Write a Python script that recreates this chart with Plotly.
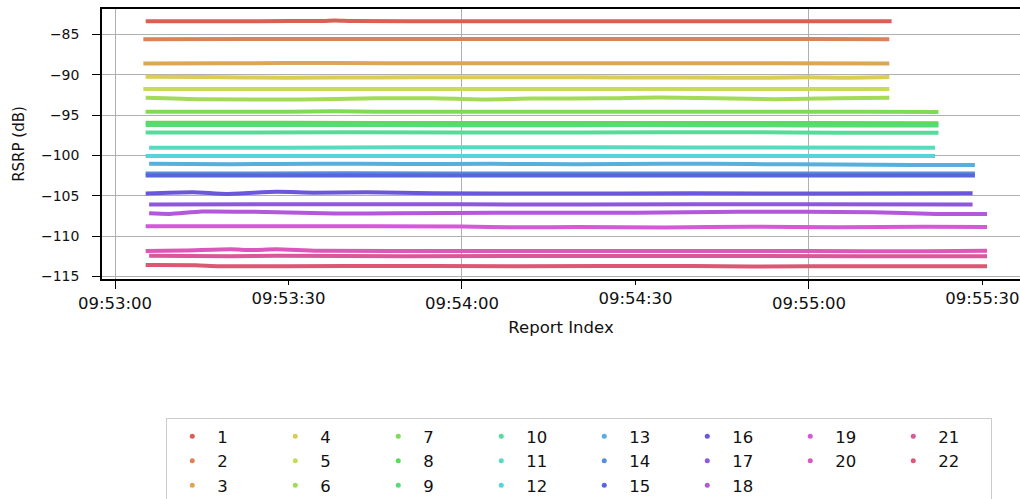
import colorsys
import datetime as dt

import plotly.graph_objects as go

# Report times are seconds after 09:53:00; RSRP readings in dB.
BASE = dt.datetime(2000, 1, 1, 9, 53, 0)

SERIES_NAMES = [str(i) for i in range(1, 23)]

t1 = [5.3, 25, 36, 38, 41, 60, 90, 120, 134.3]
v1 = [-83.36, -83.35, -83.32, -83.27, -83.33, -83.35, -83.36, -83.35, -83.36]

t2 = [4.9, 30, 60, 90, 120, 133.9]
v2 = [-85.58, -85.55, -85.57, -85.55, -85.56, -85.58]

t3 = [4.9, 20, 38, 55, 80, 110, 133.9]
v3 = [-88.60, -88.58, -88.53, -88.58, -88.57, -88.58, -88.60]

t4 = [5.3, 15, 30, 45, 60, 80, 100, 113, 120, 126, 133.9]
v4 = [-90.25, -90.28, -90.36, -90.33, -90.30, -90.32, -90.33, -90.38, -90.30, -90.36, -90.27]

t5 = [4.9, 40, 80, 120, 133.9]
v5 = [-91.77, -91.76, -91.77, -91.76, -91.77]

t6 = [5.3, 15, 32, 45, 55, 64, 72, 85, 94, 114, 125, 133.9]
v6 = [-92.84, -93.02, -93.06, -92.92, -92.90, -93.06, -92.95, -92.92, -92.82, -93.02, -92.90, -92.86]

t7 = [5.3, 30, 38, 45, 70, 100, 130, 142.4]
v7 = [-94.60, -94.58, -94.52, -94.58, -94.60, -94.58, -94.60, -94.62]

t8 = [5.3, 30, 60, 90, 120, 142.4]
v8 = [-95.96, -95.95, -95.98, -95.97, -95.98, -96.00]

t9 = [5.3, 30, 60, 90, 120, 142.4]
v9 = [-96.24, -96.22, -96.26, -96.24, -96.28, -96.30]

t10 = [5.3, 40, 80, 110, 125, 142.4]
v10 = [-97.16, -97.14, -97.15, -97.12, -97.20, -97.18]

t11 = [5.9, 30, 50, 70, 100, 141.8]
v11 = [-99.06, -99.06, -98.98, -98.98, -99.02, -99.04]

t12 = [5.3, 40, 80, 120, 141.8]
v12 = [-100.08, -100.06, -100.07, -100.06, -100.08]

t13 = [5.9, 20, 35, 50, 65, 80, 95, 110, 125, 138, 148.7]
v13 = [-101.05, -101.10, -101.02, -101.08, -101.04, -101.10, -101.02, -101.08, -101.12, -101.20, -101.18]

t14 = [5.3, 40, 80, 120, 148.7]
v14 = [-102.24, -102.22, -102.25, -102.23, -102.24]

t15 = [5.3, 40, 80, 120, 148.7]
v15 = [-102.49, -102.50, -102.48, -102.50, -102.50]

t16 = [5.3, 13.5, 19.3, 27.9, 34.3, 43.5, 55, 75, 100, 125, 148.3]
v16 = [-104.72, -104.56, -104.78, -104.52, -104.62, -104.58, -104.70, -104.72, -104.70, -104.72, -104.70]

t17 = [5.9, 40, 80, 120, 148.3]
v17 = [-106.08, -106.06, -106.08, -106.06, -106.08]

t18 = [5.9, 9.5, 15, 26, 38, 49, 66, 90, 108, 131, 142, 150.8]
v18 = [-107.18, -107.26, -106.96, -107.02, -107.22, -107.18, -107.10, -107.10, -106.98, -107.04, -107.26, -107.26]

t19 = [5.3, 30, 60, 70, 80, 95, 110, 125, 140, 150.8]
v19 = [-108.80, -108.79, -108.82, -108.92, -108.88, -108.94, -108.84, -108.90, -108.86, -108.88]

t20 = [5.3, 12, 20, 23.5, 28, 35, 60, 90, 120, 140, 150.8]
v20 = [-111.86, -111.80, -111.64, -111.74, -111.64, -111.84, -111.86, -111.86, -111.86, -111.90, -111.84]

t21 = [5.9, 20, 28, 50, 90, 130, 150.8]
v21 = [-112.46, -112.50, -112.46, -112.50, -112.48, -112.50, -112.50]

t22 = [5.3, 14, 18, 40, 70, 100, 110, 130, 150.8]
v22 = [-113.60, -113.62, -113.74, -113.72, -113.74, -113.72, -113.78, -113.74, -113.76]

TIMES = [t1, t2, t3, t4, t5, t6, t7, t8, t9, t10, t11,
         t12, t13, t14, t15, t16, t17, t18, t19, t20, t21, t22]
VALUES = [v1, v2, v3, v4, v5, v6, v7, v8, v9, v10, v11,
          v12, v13, v14, v15, v16, v17, v18, v19, v20, v21, v22]

Y_TICKS = [-115, -110, -105, -100, -95, -90, -85]
MAJOR_TICKS = ["09:53:00", "09:54:00", "09:55:00"]
MINOR_TICKS = ["09:53:30", "09:54:30", "09:55:30"]

# Legend grid: entries per column, read top to bottom, left to right.
LEGEND_COLUMN_SIZES = [3, 3, 3, 3, 3, 3, 2, 2]


def at(seconds):
    return BASE + dt.timedelta(seconds=seconds)


def clock(label):
    h, m, s = (int(p) for p in label.split(":"))
    return BASE.replace(hour=h, minute=m, second=s)


def hls_colors(n, h=0.01, l=0.6, s=0.65):
    out = []
    for i in range(n):
        hue = (i / n + h) % 1.0
        r, g, b = colorsys.hls_to_rgb(hue, l, s)
        out.append("rgb(%d,%d,%d)" % (round(r * 255), round(g * 255), round(b * 255)))
    return out


def legend_ranks(column_sizes):
    # Plotly fills a horizontal legend row by row; rank entries so that
    # consecutive series run down each column instead.
    n_cols = len(column_sizes)
    ranks = []
    for col, size in enumerate(column_sizes):
        for row in range(size):
            ranks.append(row * n_cols + col + 1)
    return ranks


colors = hls_colors(len(SERIES_NAMES))
ranks = legend_ranks(LEGEND_COLUMN_SIZES)
fig = go.Figure()

for i, (name, ts, vs) in enumerate(zip(SERIES_NAMES, TIMES, VALUES)):
    fig.add_trace(go.Scatter(
        x=[at(t) for t in ts], y=vs, mode="lines",
        line=dict(color=colors[i], width=4, shape="spline", smoothing=0.6),
        name=name, legendgroup=name, showlegend=False, hoverinfo="skip",
    ))
    fig.add_trace(go.Scatter(
        x=[None], y=[None], mode="markers", xaxis="x2",
        marker=dict(color=colors[i], size=5),
        name=name, legendgroup=name, legendrank=ranks[i],
    ))

font = "DejaVu Sans, sans-serif"
x_range = [at(-2.25), at(156.5)]

fig.update_layout(
    width=1020, height=499,
    margin=dict(l=102, r=0, t=9, b=220),
    paper_bgcolor="white", plot_bgcolor="white",
    font=dict(family=font, color="#111111"),
    showlegend=True,
    legend=dict(
        orientation="h", xref="container", yref="container",
        x=0.163, y=0.1623, xanchor="left", yanchor="top",
        font=dict(family=font, size=16.5, color="#111111"),
        bordercolor="#cccccc", borderwidth=1, bgcolor="white",
        itemwidth=40, entrywidth=48, traceorder="normal",
    ),
    xaxis=dict(
        type="date", range=x_range,
        tickmode="array", tickvals=[clock(s) for s in MAJOR_TICKS],
        tickformat="%H:%M:%S",
        ticks="outside", ticklen=8, tickwidth=1, tickcolor="black",
        tickfont=dict(size=16.5),
        showgrid=True, gridcolor="#b0b0b0", gridwidth=1.1,
        showline=True, linecolor="black", linewidth=1.5, mirror=True,
        zeroline=False,
        title=dict(text="Report Index", font=dict(size=16.5), standoff=10),
    ),
    xaxis2=dict(
        type="date", range=x_range, overlaying="x", anchor="y", side="bottom",
        tickmode="array", tickvals=[clock(s) for s in MINOR_TICKS],
        tickformat="%H:%M:%S",
        ticks="outside", ticklen=4.5, tickwidth=1, tickcolor="black",
        tickfont=dict(size=16.5),
        showgrid=False, showline=False, zeroline=False,
    ),
    yaxis=dict(
        range=[-115.33, -81.84],
        tickmode="array", tickvals=Y_TICKS,
        ticks="outside", ticklen=8, tickwidth=1, tickcolor="black",
        tickfont=dict(size=14), ticklabelstandoff=10,
        showgrid=True, gridcolor="#b0b0b0", gridwidth=1.1,
        showline=True, linecolor="black", linewidth=1.5, mirror=False,
        zeroline=False,
        title=dict(text="RSRP (dB)", font=dict(size=15), standoff=13),
    ),
)

fig.write_html("out.html")
